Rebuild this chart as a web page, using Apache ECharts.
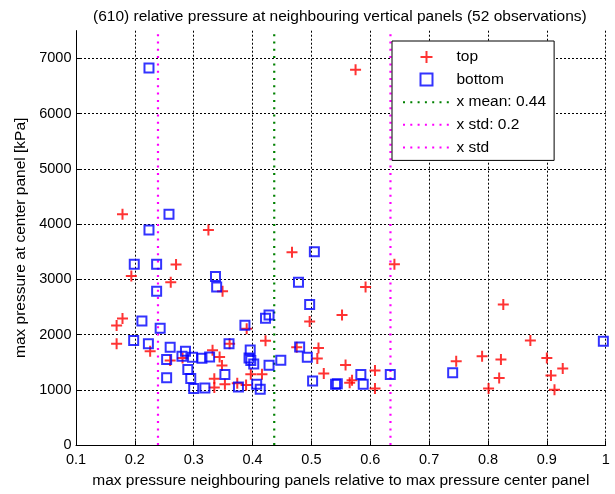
<!DOCTYPE html>
<html>
<head>
<meta charset="utf-8">
<script src="https://cdn.jsdelivr.net/npm/echarts@6/dist/echarts.min.js"></script>
<style>
html,body{margin:0;padding:0;background:#fff;}
#chart{width:615px;height:494px;}
</style>
</head>
<body>
<div id="chart"></div>
<script>
// ---- data ----
var titleText = '(610) relative pressure at neighbouring vertical panels (52 observations)';
var xName = 'max pressure neighbouring panels relative to max pressure center panel';
var yName = 'max pressure at center panel [kPa]';
var xTicks = [0.1, 0.2, 0.3, 0.4, 0.5, 0.6, 0.7, 0.8, 0.9, 1];
var yTicks = [0, 1000, 2000, 3000, 4000, 5000, 6000, 7000];
var xRange = [0.1, 1];
var yRange = [0, 7500];

var topX = [0.179, 0.325, 0.270, 0.194, 0.261, 0.349, 0.179, 0.169, 0.169, 0.390,
            0.226, 0.260, 0.361, 0.281, 0.332, 0.344, 0.348, 0.335, 0.335, 0.353,
            0.397, 0.389, 0.467, 0.641, 0.592, 0.552, 0.497, 0.422, 0.475, 0.512,
            0.510, 0.558, 0.521, 0.608, 0.416, 0.565, 0.569, 0.608, 0.826, 0.872,
            0.790, 0.746, 0.822, 0.900, 0.927, 0.819, 0.907, 0.801, 0.913, 0.575,
            0.374];
var topY = [4176, 3894, 3267, 3059, 2945, 2783, 2288, 2163, 1834, 2105,
            1697, 1529, 1834, 1577, 1715, 1595, 1440, 1201, 1039, 1099,
            1280, 1088, 3489, 3274, 2862, 2353, 2235, 1885, 1769, 1756,
            1565, 1446, 1296, 1350, 1280, 1129, 1171, 1022, 2545, 1894,
            1607, 1518, 1547, 1577, 1385, 1213, 1260, 1022, 998, 6792,
            1120];

var bottomX = [0.224, 0.258, 0.224, 0.199, 0.237, 0.337, 0.339, 0.237, 0.212, 0.243,
               0.387, 0.198, 0.223, 0.360, 0.260, 0.254, 0.280, 0.286, 0.298, 0.314,
               0.327, 0.290, 0.295, 0.254, 0.353, 0.300, 0.319, 0.376, 0.396, 0.394,
               0.397, 0.402, 0.407, 0.413, 0.505, 0.478, 0.497, 0.428, 0.422, 0.480,
               0.493, 0.448, 0.428, 0.502, 0.541, 0.544, 0.584, 0.588, 0.634, 0.740,
               0.996];
var bottomY = [6826, 4176, 3894, 3274, 3274, 3052, 2862, 2783, 2246, 2115,
               2170, 1894, 1834, 1834, 1769, 1547, 1607, 1697, 1590, 1572,
               1595, 1367, 1206, 1219, 1275, 1022, 1030, 1052, 1720, 1577,
               1529, 1465, 1100, 1010, 3500, 2945, 2545, 2353, 2294, 1774,
               1590, 1532, 1442, 1159, 1099, 1110, 1278, 1099, 1278, 1308,
               1876];

var meanX = 0.4368;
var stdX = 0.1975;
var legendNames = ['top', 'bottom', 'x mean: 0.44', 'x std: 0.2', 'x std'];

// ---- build ----
function pairs(xs, ys) { return xs.map(function (x, i) { return [x, ys[i]]; }); }
function vline(x) { return [[x, yRange[0]], [x, yRange[1]]]; }

var FONT = 'Liberation Sans, Arial, Helvetica, sans-serif';
var TXT = 15.5;
var chart = echarts.init(document.getElementById('chart'), null, { renderer: 'canvas' });

var dotted = [2, 5.3];
var hidden = { color: 'rgba(0,0,0,0)', borderColor: 'rgba(0,0,0,0)', borderWidth: 0 };

var option = {
  backgroundColor: '#ffffff',
  animation: false,
  title: {
    text: titleText,
    left: 88,
    top: 4,
    textStyle: { fontFamily: FONT, fontSize: TXT, fontWeight: 'normal', color: '#000' }
  },
  grid: { left: 76, right: 9.3, top: 30.7, bottom: 45.3, containLabel: false },
  legend: {
    orient: 'vertical',
    left: 392,
    top: 41,
    padding: [8, 8, 5, 10],
    itemWidth: 47,
    itemHeight: 12,
    itemGap: 6.6,
    backgroundColor: '#ffffff',
    borderColor: '#000',
    borderWidth: 1,
    selectedMode: false,
    data: legendNames,
    textStyle: { fontFamily: FONT, fontSize: TXT, color: '#000', padding: [0, 0, 0, 1.5] }
  },
  xAxis: {
    type: 'value',
    min: xRange[0],
    max: xRange[1],
    interval: 0.1,
    name: xName,
    nameLocation: 'middle',
    nameGap: 28,
    nameTextStyle: { fontFamily: FONT, fontSize: TXT, color: '#000' },
    axisLine: { show: true, onZero: false, lineStyle: { color: '#000', width: 1 } },
    axisTick: { show: true, inside: true, length: 4, lineStyle: { color: '#000' } },
    axisLabel: {
      fontFamily: FONT, fontSize: 14.5, color: '#000', margin: 7,
      formatter: function (v) {
        var best = xTicks.reduce(function (a, b) { return Math.abs(b - v) < Math.abs(a - v) ? b : a; });
        return String(best);
      }
    },
    splitLine: { show: true, lineStyle: { color: '#000', width: 1, type: [2, 2] } }
  },
  yAxis: {
    type: 'value',
    min: yRange[0],
    max: yRange[1],
    interval: 1000,
    name: yName,
    nameLocation: 'middle',
    nameGap: 47,
    nameTextStyle: { fontFamily: FONT, fontSize: TXT, color: '#000' },
    axisLine: { show: true, onZero: false, lineStyle: { color: '#000', width: 1 } },
    axisTick: { show: true, inside: true, length: 4, lineStyle: { color: '#000' } },
    axisLabel: {
      fontFamily: FONT, fontSize: 14.5, color: '#000', margin: 4.5, showMaxLabel: false,
      formatter: function (v) { return yTicks.indexOf(Math.round(v)) >= 0 ? String(Math.round(v)) : ''; }
    },
    splitLine: { show: true, showMaxLine: false, lineStyle: { color: '#000', width: 1, type: [2, 2] } }
  },
  series: [
    {
      name: legendNames[2], type: 'line', data: vline(meanX), symbol: 'none', silent: true, z: 1,
      lineStyle: { color: '#008000', width: 2.2, type: dotted }, itemStyle: hidden
    },
    {
      name: legendNames[3], type: 'line', data: vline(meanX - stdX), symbol: 'none', silent: true, z: 1,
      lineStyle: { color: '#ff00ff', width: 2.2, type: dotted }, itemStyle: hidden
    },
    {
      name: legendNames[4], type: 'line', data: vline(meanX + stdX), symbol: 'none', silent: true, z: 1,
      lineStyle: { color: '#ff00ff', width: 2.2, type: dotted }, itemStyle: hidden
    },
    {
      name: legendNames[0], type: 'scatter', data: pairs(topX, topY), z: 3,
      symbol: 'path://M0,5L10,5M5,0L5,10', symbolSize: 11,
      itemStyle: { color: '#ff0000', borderColor: '#ff0000', borderWidth: 2 }
    },
    {
      name: legendNames[1], type: 'scatter', data: pairs(bottomX, bottomY), z: 4,
      symbol: 'path://M0,0L10,0L10,10L0,10Z', symbolSize: 9,
      itemStyle: { color: 'rgba(0,0,0,0)', borderColor: '#0000ff', borderWidth: 2 }
    }
  ]
};
chart.setOption(option);
</script>
</body>
</html>
